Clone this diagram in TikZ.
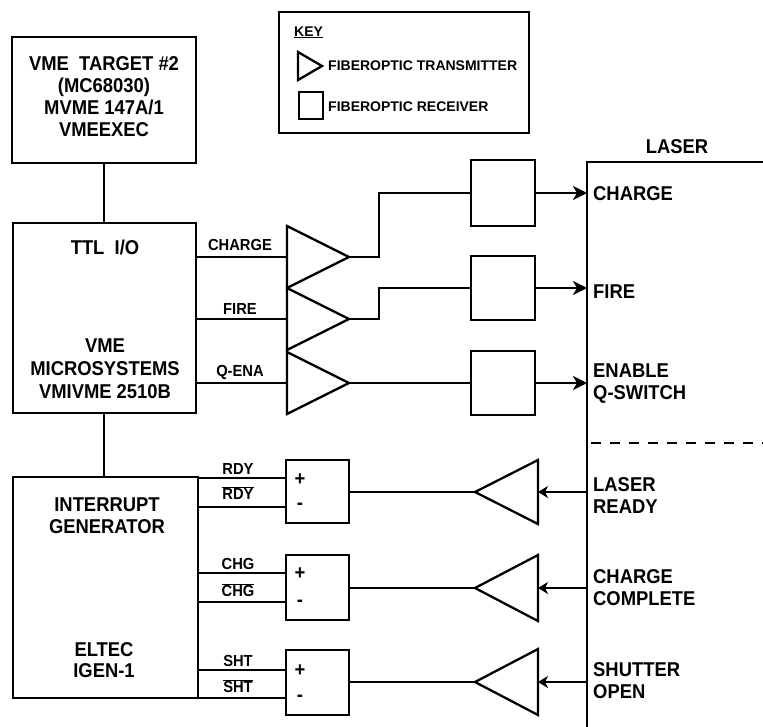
\documentclass[tikz,border=0pt]{standalone}
\usepackage{fontspec}
\setmainfont{Liberation Sans}[FakeStretch=0.92]
\newfontfamily\keyfont{Liberation Sans}
\usetikzlibrary{arrows.meta}
\newcommand\ovl[1]{$\overline{\hbox{#1}}$}
\begin{document}
\begin{tikzpicture}[x=1pt,y=-1pt,
  box/.style={draw, line width=2.5pt, inner sep=0pt},
  wire/.style={line width=2.3pt, line join=miter},
  arr/.style={wire, -{Stealth[length=14pt,width=14pt,inset=4pt]}},
  larr/.style={wire, -{Stealth[length=10pt,width=12pt,inset=3pt]}},
  txt/.style={font=\bfseries\fontsize{20}{22}\selectfont, align=center, inner sep=0pt},
  sig/.style={font=\bfseries\fontsize{16}{18}\selectfont, inner sep=0pt},
  pm/.style={font=\bfseries\fontsize{20}{22}\selectfont, inner sep=0pt},
  small/.style={font=\bfseries\fontsize{16}{18}\selectfont, inner sep=0pt},
  keyf/.style={font=\keyfont\bfseries\fontsize{14}{16}\selectfont, inner sep=0pt},
  lastxt/.style={font=\bfseries\fontsize{20}{22}\selectfont, align=left, inner sep=0pt, anchor=west}]
\useasboundingbox (0,0) rectangle (763,726);

% ---------- key ----------
\node[box, minimum width=250pt, minimum height=121pt] (key) at (404,72.5) {};
\node[keyf, anchor=base west] (keyt) at (294,36) {\underline{KEY}};
\coordinate (ktA) at (298,52); \coordinate (ktB) at (322,66); \coordinate (ktC) at (298,80);
\draw[wire] (ktA) -- (ktB) -- (ktC) -- cycle;
\node[box, minimum width=24pt, minimum height=27pt] (keysq) at (311,105.5) {};
\node[keyf, anchor=west] (k1) at (328,66) {FIBEROPTIC TRANSMITTER};
\node[keyf, anchor=west] (k2) at (328,107) {FIBEROPTIC RECEIVER};

% ---------- left column ----------
\node[box, minimum width=184pt, minimum height=126pt] (vme) at (104,100) {};
\node[txt] (vmet) at (104,97) {VME\ \ TARGET \#2\\(MC68030)\\MVME 147A/1\\VMEEXEC};

\node[box, minimum width=183pt, minimum height=190pt] (ttl) at (104.5,318) {};
\node[txt] (ttlt) at (105,247) {TTL\ \ I/O};
\node[txt, font=\bfseries\fontsize{20}{23}\selectfont] (ttlb) at (105,369) {VME\\MICROSYSTEMS\\VMIVME 2510B};

\node[box, minimum width=185pt, minimum height=221pt] (intr) at (105.5,587.5) {};
\node[txt] (intrt) at (107,516) {INTERRUPT\\GENERATOR};
\node[txt, font=\bfseries\fontsize{20}{21}\selectfont] (intrb) at (104,660) {ELTEC\\IGEN-1};

\draw[wire] (vme.south) -- (vme.south |- ttl.north);
\draw[wire] (vme.south |- ttl.south) -- (vme.south |- intr.north);

% ---------- transmitters ----------
\coordinate (t1) at (287,257); \coordinate (t1p) at (349,257);
\coordinate (t2) at (287,319); \coordinate (t2p) at (349,319);
\coordinate (t3) at (287,383); \coordinate (t3p) at (349,383);
\draw[wire] (287,226) -- (t1p) -- (287,288) -- cycle;
\draw[wire] (287,288) -- (t2p) -- (287,350) -- cycle;
\draw[wire] (287,352) -- (t3p) -- (287,414) -- cycle;

\draw[wire] (ttl.east |- t1) -- (t1);
\draw[wire] (ttl.east |- t2) -- (t2);
\draw[wire] (ttl.east |- t3) -- (t3);
\node[sig] (lc) at (240,245) {CHARGE};
\node[sig] (lf) at (240,309) {FIRE};
\node[sig] (lq) at (240,372) {Q-ENA};

% ---------- receivers ----------
\node[box, minimum width=64pt, minimum height=66pt] (r1) at (503,193) {};
\node[box, minimum width=64pt, minimum height=64pt] (r2) at (503,288) {};
\node[box, minimum width=64pt, minimum height=64pt] (r3) at (503,383) {};

\coordinate (j1) at (379,257);
\coordinate (j2) at (379,319);
\draw[wire] (t1p) -- (j1) -- (j1 |- r1.west) -- (r1.west);
\draw[wire] (t2p) -- (j2) -- (j2 |- r2.west) -- (r2.west);
\draw[wire] (t3p) -- (r3.west);

% ---------- laser ----------
\coordinate (lasTL) at (587,162);
\draw[wire] (764,162) -- (lasTL) -- (587,727);
\node[txt] (lasl) at (677,147) {LASER};
\draw[wire, dash pattern=on 10pt off 9pt] (591,443) -- (763,443);

\draw[arr] (r1.east) -- (r1.east -| lasTL);
\draw[arr] (r2.east) -- (r2.east -| lasTL);
\draw[arr] (r3.east) -- (r3.east -| lasTL);

\node[lastxt] (lc1) at (593,194) {CHARGE};
\node[lastxt] (lf1) at (593,292) {FIRE};
\node[lastxt] (le1) at (593,384) {ENABLE\\Q-SWITCH};
\node[lastxt] (lr1) at (593,496) {LASER\\READY};
\node[lastxt] (lcc) at (593,587.5) {CHARGE\\COMPLETE};
\node[lastxt] (lso) at (593,681) {SHUTTER\\OPEN};

% ---------- return path ----------
\coordinate (a1) at (538,492); \coordinate (a1p) at (475,492);
\coordinate (a2) at (538,588); \coordinate (a2p) at (475,588);
\coordinate (a3) at (538,682); \coordinate (a3p) at (475,682);
\draw[wire] (538,460) -- (a1p) -- (538,524) -- cycle;
\draw[wire] (538,555) -- (a2p) -- (538,621) -- cycle;
\draw[wire] (538,649) -- (a3p) -- (538,715) -- cycle;
\draw[larr] (lasTL |- a1) -- (a1);
\draw[larr] (lasTL |- a2) -- (a2);
\draw[larr] (lasTL |- a3) -- (a3);

\node[box, minimum width=63pt, minimum height=63pt] (d1) at (317.5,491.5) {};
\node[box, minimum width=63pt, minimum height=65pt] (d2) at (317.5,587.5) {};
\node[box, minimum width=63pt, minimum height=65pt] (d3) at (317.5,682.5) {};
\draw[wire] (d1.east |- a1p) -- (a1p);
\draw[wire] (d2.east |- a2p) -- (a2p);
\draw[wire] (d3.east |- a3p) -- (a3p);

\coordinate (p1) at (286,478); \coordinate (m1) at (286,507);
\coordinate (p2) at (286,573); \coordinate (m2) at (286,602);
\coordinate (p3) at (286,670); \coordinate (m3) at (286,698);
\draw[wire] (intr.east |- p1) -- (p1);
\draw[wire] (intr.east |- m1) -- (m1);
\draw[wire] (intr.east |- p2) -- (p2);
\draw[wire] (intr.east |- m2) -- (m2);
\draw[wire] (intr.east |- p3) -- (p3);
\draw[wire] (intr.east |- m3) -- (m3);

\node[small] (s1) at (238,469) {RDY};
\node[small] (s1b) at (238,493) {\ovl{RDY}};
\node[small] (s2) at (238,564) {CHG};
\node[small] (s2b) at (238,590) {\ovl{CHG}};
\node[small] (s3) at (238,661) {SHT};
\node[small] (s3b) at (238,686) {\ovl{SHT}};

\foreach \n/\yp/\ym in {1/480/506, 2/574/603, 3/671/698} {
  \node[pm] (plus\n) at (300,\yp) {+};
  \node[pm] (minus\n) at (300,\ym) {-};
}
\end{tikzpicture}
\end{document}
